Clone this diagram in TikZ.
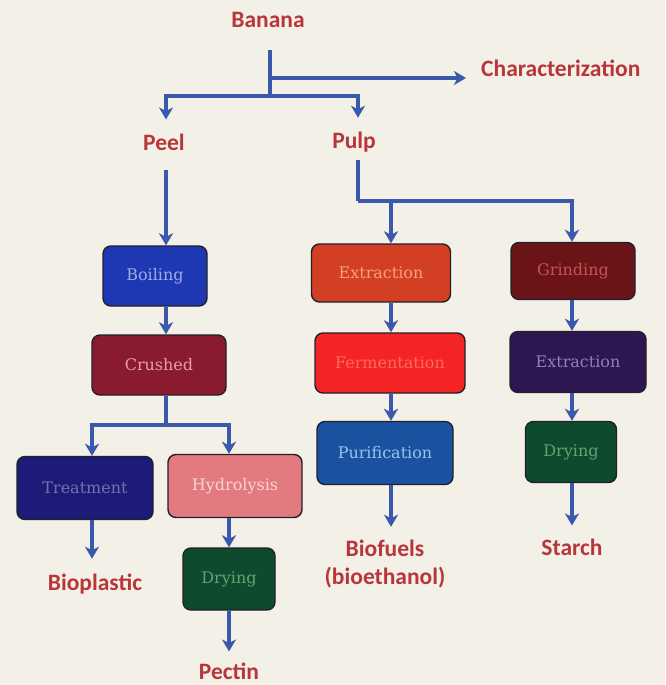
\documentclass[tikz,border=0pt]{standalone}
\usepackage{fontspec}
\newfontfamily\labfont{Carlito}[BoldFont={* Bold}]
\newfontfamily\boxfont{DejaVu Serif}
\usetikzlibrary{arrows.meta}
\definecolor{bg}{HTML}{F3F0E8}
\definecolor{lab}{HTML}{B8363A}
\definecolor{arrc}{HTML}{3A58AC}
\definecolor{edge}{HTML}{22202C}
\tikzset{
  lbl/.style={font=\labfont\bfseries\fontsize{23.5}{28}\selectfont, text=lab, inner sep=1pt, align=center},
  pbox/.style={draw=edge, line width=1.4pt, rounded corners=8pt, font=\boxfont\fontsize{16}{19}\selectfont, inner sep=0pt},
  conn/.style={draw=arrc, line width=3.2pt},
  arr/.style={conn, -{Stealth[length=12pt,width=14pt,inset=3.5pt]}},
}
\begin{document}
\begin{tikzpicture}[x=1pt,y=-1pt]
\useasboundingbox (0,0) rectangle (665,685);
\fill[bg] (0,0) rectangle (665,685);

% column coordinates
\coordinate (cP) at (166,0);
\coordinate (cT) at (92,0);
\coordinate (cH) at (229,0);
\coordinate (cE) at (391,0);
\coordinate (cS) at (572,0);

% labels
\node[lbl] (banana) at (268,20) {Banana};
\node[lbl, anchor=west] (char) at (480,68) {Characterization};
\node[lbl] (peel) at (164,142) {Peel};
\node[lbl] (pulp) at (354,142) {Pulp};
\node[lbl] (biopl) at (95,584) {Bioplastic};
\node[lbl] (pectin) at (229,671) {Pectin};
\node[lbl] (biof) at (385,564) {Biofuels\\(bioethanol)};
\node[lbl] (starch) at (572,547) {Starch};

% boxes
\node[pbox, fill={rgb,255:red,30;green,56;blue,180}, text={rgb,255:red,160;green,172;blue,228}, minimum width=104pt, minimum height=60pt] (boil) at (155,276) {Boiling};
\node[pbox, fill={rgb,255:red,138;green,26;blue,46}, text={rgb,255:red,232;green,160;blue,168}, minimum width=134pt, minimum height=60pt] (crush) at (159,365) {Crushed};
\node[pbox, fill={rgb,255:red,28;green,28;blue,120}, text={rgb,255:red,110;green,116;blue,176}, minimum width=136pt, minimum height=63pt] (treat) at (85,488) {Treatment};
\node[pbox, fill={rgb,255:red,226;green,122;blue,128}, text={rgb,255:red,250;green,212;blue,212}, minimum width=134pt, minimum height=63pt] (hydro) at (235,486) {Hydrolysis};
\node[pbox, fill={rgb,255:red,14;green,74;blue,46}, text={rgb,255:red,100;green,164;blue,116}, minimum width=92pt, minimum height=62pt] (dry1) at (229,579) {Drying};
\node[pbox, fill={rgb,255:red,211;green,63;blue,34}, text={rgb,255:red,248;green,160;blue,128}, minimum width=139pt, minimum height=58pt] (ext1) at (381,273) {Extraction};
\node[pbox, fill={rgb,255:red,245;green,36;blue,36}, text={rgb,255:red,255;green,104;blue,96}, minimum width=150pt, minimum height=60pt] (ferm) at (390,363) {Fermentation};
\node[pbox, fill={rgb,255:red,26;green,82;blue,160}, text={rgb,255:red,150;green,196;blue,236}, minimum width=136pt, minimum height=63pt] (purif) at (385,453) {Purification};
\node[pbox, fill={rgb,255:red,106;green,20;blue,24}, text={rgb,255:red,196;green,84;blue,84}, minimum width=124pt, minimum height=57pt] (grind) at (573,271) {Grinding};
\node[pbox, fill={rgb,255:red,46;green,22;blue,80}, text={rgb,255:red,146;green,128;blue,180}, minimum width=136pt, minimum height=61pt] (ext2) at (578,362) {Extraction};
\node[pbox, fill={rgb,255:red,14;green,74;blue,46}, text={rgb,255:red,100;green,164;blue,116}, minimum width=91pt, minimum height=61pt] (dry2) at (571,452) {Drying};

% junction coordinates
\coordinate (b0) at (270,50);
\coordinate (b1) at (270,96);
\coordinate (b2) at (270,78);
\coordinate (jp0) at (358,160);
\coordinate (jp) at (358,201);
\coordinate (jc) at (166,425);

% connectors: banana
\draw[conn] (b0) -- (b1);
\draw[arr] (b2) -- ([xshift=-14pt]b2 -| char.west);
\draw[arr] (b1) -| ([yshift=13pt]peel.north -| cP);
\draw[arr] (b1) -| ([yshift=13pt]pulp.north -| jp);

% peel branch
\draw[arr] ([yshift=-18pt]peel.south -| cP) -- (boil.north -| cP);
\draw[arr] (boil.south -| cP) -- (crush.north -| cP);
\draw[conn] (crush.south -| cP) -- (jc);
\draw[arr] (jc) -| (treat.north -| cT);
\draw[arr] (jc) -| (hydro.north -| cH);
\draw[arr] (treat.south -| cT) -- ([yshift=14pt]biopl.north -| cT);
\draw[arr] (hydro.south -| cH) -- (dry1.north -| cH);
\draw[arr] (dry1.south -| cH) -- ([yshift=10pt]pectin.north -| cH);

% pulp branch
\draw[conn] (jp0) -- (jp);
\draw[arr] (jp) -| (grind.north -| cS);
\draw[arr] (jp -| cE) -- (ext1.north -| cE);
\draw[arr] (ext1.south -| cE) -- (ferm.north -| cE);
\draw[arr] (ferm.south -| cE) -- (purif.north -| cE);
\draw[arr] (purif.south -| cE) -- ([yshift=12pt]biof.north -| cE);
\draw[arr] (grind.south -| cS) -- (ext2.north -| cS);
\draw[arr] (ext2.south -| cS) -- (dry2.north -| cS);
\draw[arr] (dry2.south -| cS) -- ([yshift=12pt]starch.north -| cS);
\end{tikzpicture}
\end{document}
